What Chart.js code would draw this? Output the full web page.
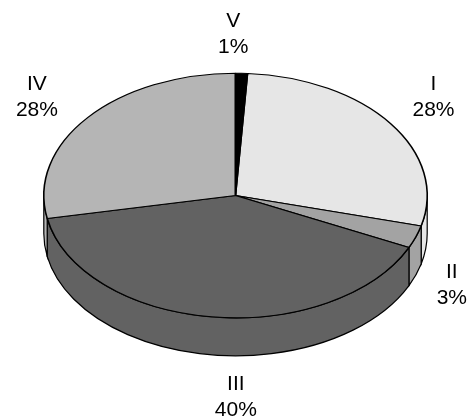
<!DOCTYPE html>
<html>
<head>
<meta charset="utf-8">
<script src="https://cdn.jsdelivr.net/npm/chart.js@4.4.1/dist/chart.umd.min.js"></script>
<style>
  html, body { margin: 0; padding: 0; background: #fff; }
</style>
</head>
<body>
<canvas id="pie3d" width="469" height="417"></canvas>
<script>
const categories = ["I", "II", "III", "IV", "V"];
const shares = [28, 3, 40, 28, 1];
const sliceColors = ["#e6e6e6", "#a3a3a3", "#626262", "#b5b5b5", "#000000"];

const TILT = 122.5 / 192;   // vertical squash of the top face
const DEPTH = 38;           // thickness of the pie in px
// small hand nudges so the labels sit where the original put them
const labelNudge = [[0, -3], [0, -3], [31, 3], [-10, 5], [-10, 1]];

const pie3d = {
  id: "pie3d",
  beforeDatasetsDraw(chart) {
    const ctx = chart.ctx;
    const arcs = chart.getDatasetMeta(0).data;
    const cx = arcs[0].x, cy = arcs[0].y;
    const rx = arcs[0].outerRadius, ry = rx * TILT;
    const TAU = Math.PI * 2;

    // side walls, only the front half (0..PI) can be seen
    ctx.save();
    ctx.strokeStyle = "#000";
    ctx.lineWidth = 1.2;
    arcs.forEach((arc, i) => {
      let s = arc.startAngle, e = arc.endAngle;
      const k = Math.floor(s / TAU);
      s -= k * TAU; e -= k * TAU;
      [[0, Math.PI], [TAU, TAU + Math.PI]].forEach(([lo, hi]) => {
        const a = Math.max(s, lo), b = Math.min(e, hi);
        if (b - a > 1e-4) {
          ctx.beginPath();
          ctx.ellipse(cx, cy, rx, ry, 0, a, b, false);
          ctx.ellipse(cx, cy + DEPTH, rx, ry, 0, b, a, true);
          ctx.closePath();
          ctx.fillStyle = sliceColors[i];
          ctx.fill();
          ctx.stroke();
        }
      });
    });
    ctx.restore();

    // squash the top face that chart.js draws next
    ctx.save();
    ctx.translate(cx, cy);
    ctx.scale(1, TILT);
    ctx.translate(-cx, -cy);
  },
  afterDatasetsDraw(chart) {
    const ctx = chart.ctx;
    ctx.restore();

    const arcs = chart.getDatasetMeta(0).data;
    const cx = arcs[0].x, cy = arcs[0].y;
    const rx = arcs[0].outerRadius, ry = rx * TILT;
    const total = shares.reduce((a, b) => a + b, 0);

    ctx.save();
    ctx.font = "21px 'Liberation Sans', Arial, sans-serif";
    ctx.fillStyle = "#000";
    ctx.textAlign = "center";
    ctx.textBaseline = "middle";
    arcs.forEach((arc, i) => {
      const m = (arc.startAngle + arc.endAngle) / 2;
      const lines = [categories[i], Math.round(shares[i] / total * 100) + "%"];
      const w = Math.max(...lines.map(t => ctx.measureText(t).width));
      let x = cx + (rx + 53) * Math.cos(m) + labelNudge[i][0];
      let y = cy + (ry + 40) * Math.sin(m) + (Math.sin(m) > 0 ? DEPTH : 0) + labelNudge[i][1];
      x = Math.min(Math.max(x, w / 2 + 2), chart.width - w / 2 - 2);
      ctx.fillText(lines[0], x, y - 13);
      ctx.fillText(lines[1], x, y + 13);
    });
    ctx.restore();
  }
};

new Chart(document.getElementById("pie3d").getContext("2d"), {
  type: "pie",
  data: {
    labels: categories,
    datasets: [{
      data: shares,
      backgroundColor: sliceColors,
      borderColor: "#000",
      borderWidth: 1.6,
      hoverOffset: 0,
      offset: 0,
      clip: false
    }]
  },
  options: {
    responsive: false,
    animation: false,
    events: [],
    rotation: 3.6,
    layout: { padding: { left: 43, right: 41, top: 0, bottom: 26 } },
    plugins: {
      legend: { display: false },
      tooltip: { enabled: false }
    }
  },
  plugins: [pie3d]
});
</script>
</body>
</html>
